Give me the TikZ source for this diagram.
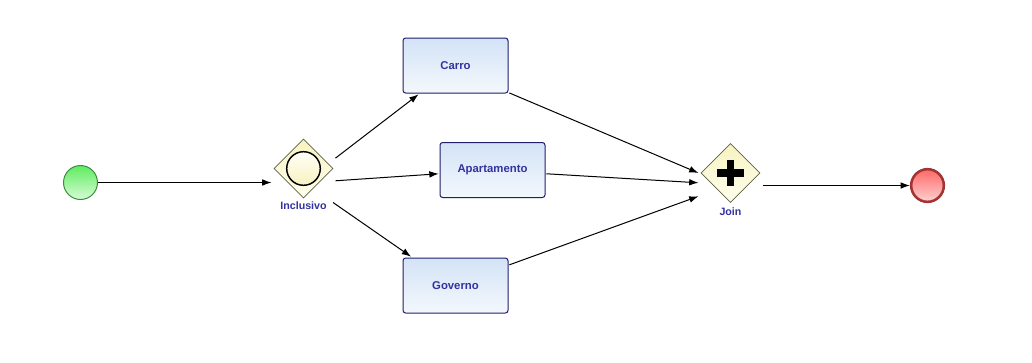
\documentclass[tikz,border=0pt]{standalone}
\usepackage{fontspec}
\newfontfamily\diagfont{Liberation Sans}
\usetikzlibrary{arrows.meta, positioning}

\definecolor{labelblue}{RGB}{50,50,160}
\definecolor{taskline}{RGB}{31,31,107}
\definecolor{tasktop}{RGB}{211,227,246}
\definecolor{taskbot}{RGB}{244,248,253}
\definecolor{gwline}{RGB}{95,95,65}
\definecolor{gwtop}{RGB}{247,242,190}
\definecolor{gwbot}{RGB}{255,255,242}
\definecolor{startline}{RGB}{63,140,63}
\definecolor{starttop}{RGB}{96,235,96}
\definecolor{startbot}{RGB}{214,252,214}
\definecolor{endline}{RGB}{163,52,52}
\definecolor{endtop}{RGB}{255,105,105}
\definecolor{endbot}{RGB}{255,208,208}

\begin{document}
\begin{tikzpicture}[
        x=0.75pt, y=-0.75pt,
        task/.style={rectangle, draw=taskline, line width=0.75pt, rounded corners=2pt, top color=tasktop, bottom color=taskbot, minimum width=78.75pt, minimum height=41.25pt, outer sep=1pt, font=\diagfont\bfseries\fontsize{8.5}{10}\selectfont, text=labelblue},
        gateway/.style={rectangle, minimum width=48pt, minimum height=51pt, inner sep=0pt, outer sep=0pt,
            path picture={
                \shade[top color=gwtop, bottom color=gwbot, draw=gwline, line width=0.6pt, shift={(path picture bounding box.center)}]
                    (22pt,0pt) -- (0pt,22pt) -- (-22pt,0pt) -- (0pt,-22pt) -- cycle;
            }},
        gwlabel/.style={inner sep=0pt, font=\diagfont\bfseries\fontsize{8}{9}\selectfont, text=labelblue},
        inclmark/.style={draw=black, line width=1.1pt, top color=white!60!gwbot, bottom color=gwtop},
        joinmark/.style={draw=black, line width=5.3pt},
        startev/.style={circle, draw=startline, line width=0.75pt, top color=starttop, bottom color=startbot, minimum size=25.5pt, inner sep=0pt},
        endev/.style={circle, draw=endline, line width=1.9pt, top color=endtop, bottom color=endbot, minimum size=24.5pt, inner sep=0pt},
        flow/.style={-{Latex[length=7pt, width=5pt]}, line width=0.75pt, color=black}
    ]
        \useasboundingbox[fill=white] (0,0) rectangle (1032,362);

        % events
        \node[startev] (start) at (80.5,182.5) {};
        \node[endev] (end) at (927.5,185.5) {};

        % gateways
        \node[gateway] (incl) at (303.5,168.5) {};
        \shade[inclmark] (incl.center) circle[radius=12.6pt];
        \node[gwlabel, below=-1pt of incl] (incl-lbl) {Inclusivo};

        \node[gateway] (join) at (730.5,173) {};
        \draw[joinmark] ([yshift=10pt]join.center) -- ([yshift=-10pt]join.center);
        \draw[joinmark] ([xshift=-10pt]join.center) -- ([xshift=10pt]join.center);
        \node[gwlabel, below=0pt of join] (join-lbl) {Join};

        % tasks
        \node[task] (carro) at (455.5,65.5) {Carro};
        \node[task] (apt) at (492.5,170) {Apartamento};
        \node[task] (gov) at (455.5,285.5) {Governo};

        % sequence flows
        \draw[flow] (start.east) -- (start.east -| incl.west);
        \draw[flow] (incl.18) -- (carro.218);
        \draw[flow] (incl.-21) -- (apt.184);
        \draw[flow] (incl.-49) -- (gov.147);
        \draw[flow] (carro.-27) -- (join.west);
        \draw[flow] (apt.-4) -- (join.197);
        \draw[flow] (gov.21) -- (join.216);
        \draw[flow] (end -| join.east) -- (end.west);
    \end{tikzpicture}
\end{document}
